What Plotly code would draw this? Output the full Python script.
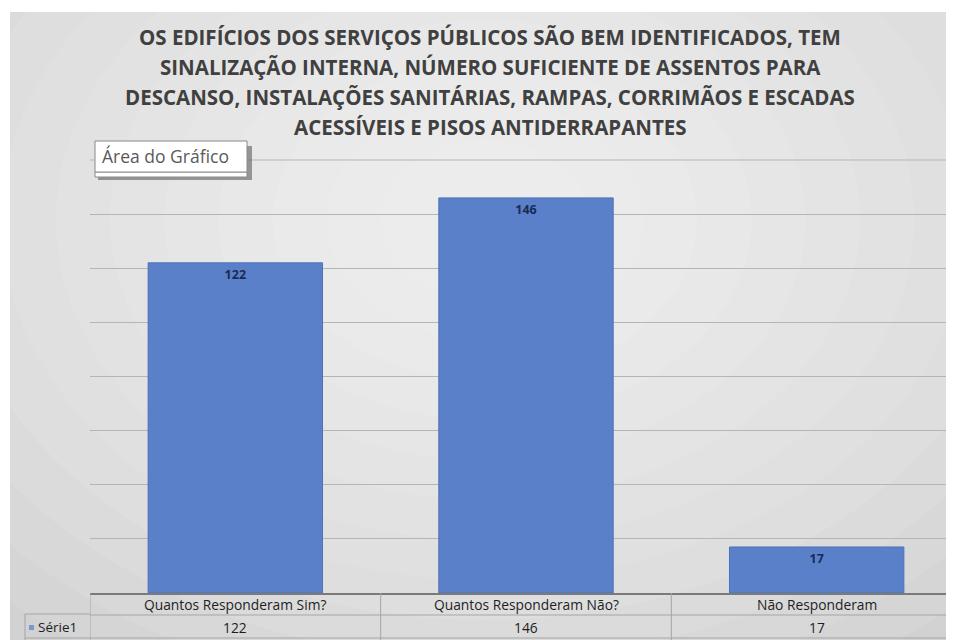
import plotly.graph_objects as go

categories = ["Quantos Responderam Sim?", "Quantos Responderam Não?", "Não Responderam"]
values = [122, 146, 17]
series_name = "Série1"
title_lines = [
    "OS EDIFÍCIOS DOS SERVIÇOS PÚBLICOS SÃO BEM IDENTIFICADOS, TEM",
    "SINALIZAÇÃO INTERNA, NÚMERO SUFICIENTE DE ASSENTOS PARA",
    "DESCANSO, INSTALAÇÕES SANITÁRIAS, RAMPAS, CORRIMÃOS E ESCADAS",
    "ACESSÍVEIS E PISOS ANTIDERRAPANTES",
]
tooltip_text = "Área do Gráfico"
y_max = 160
y_step = 20

# page body adds an 8px margin; figure overflows the right edge like the reference
OFF = 8
W, H = 954, 640 - OFF
L, R, T, B = 90 - OFF, 0, 160 - OFF, 47
PW, PH = W - L - R, H - T - B

def px(x):  # reference-window pixel -> paper x
    return (x - OFF - L) / PW

def py(y):  # reference-window pixel -> paper y
    return (H - B - (y - OFF)) / PH

FONT = "'Open Sans', Lato, sans-serif"
BAR = "#5a80ca"
GRID = "#b5b5b5"

fig = go.Figure()
fig.add_trace(go.Bar(
    x=list(range(len(categories))), y=values,
    width=0.6,
    marker=dict(color=BAR, line=dict(color="#4d72b8", width=1)),
    text=[str(v) for v in values],
    textposition="inside", insidetextanchor="end",
    textfont=dict(family=FONT, size=12.5, color="#1c2b55", weight="bold"),
    textangle=0,
    showlegend=False, hoverinfo="skip",
))

shapes = []
# white border + gray background
shapes.append(dict(type="rect", xref="paper", yref="paper", x0=px(10), x1=px(970), y0=py(12), y1=py(660),
                   fillcolor="#d2d2d2", line=dict(width=0), layer="below"))
# soft radial glow
n = 12
for i in range(n):
    f = 1 - i / n
    cx, cy = 485, 220
    rx, ry = 50 + 650 * f, 40 + 480 * f
    shapes.append(dict(type="circle", xref="paper", yref="paper",
                       x0=px(cx - rx), x1=px(cx + rx), y0=py(cy - ry), y1=py(cy + ry),
                       fillcolor="white", opacity=0.085, line=dict(width=0), layer="below"))
# top gridline along the upper edge of the plot area (axis maximum)
shapes.append(dict(type="line", xref="paper", yref="paper", x0=0, x1=1, y0=1, y1=1,
                   line=dict(color=GRID, width=1), layer="below"))

# table lines
tbl_line = dict(color="#a5a5a5", width=1)
shapes.append(dict(type="line", xref="paper", yref="paper", x0=px(90), x1=px(970), y0=py(615), y1=py(615), line=tbl_line))
shapes.append(dict(type="line", xref="paper", yref="paper", x0=px(25), x1=px(970), y0=py(638), y1=py(638), line=tbl_line))
shapes.append(dict(type="line", xref="paper", yref="paper", x0=px(25), x1=px(90), y0=py(614), y1=py(614), line=tbl_line))
shapes.append(dict(type="line", xref="paper", yref="paper", x0=px(25), x1=px(25), y0=py(614), y1=py(640), line=tbl_line))
for b in [-0.5, 0.5, 1.5]:
    shapes.append(dict(type="line", xref="x", yref="paper", x0=b, x1=b, y0=0, y1=py(640), line=tbl_line))
# legend key
shapes.append(dict(type="rect", xref="paper", yref="paper", x0=px(29), x1=px(34), y0=py(630), y1=py(625),
                   fillcolor="#7f96c8", line=dict(width=0)))
# tooltip box with shadow
shapes.append(dict(type="rect", xref="paper", yref="paper", x0=px(98), x1=px(252), y0=py(146), y1=py(180),
                   fillcolor="#5e5e5e", opacity=0.6, line=dict(width=0)))
shapes.append(dict(type="rect", xref="paper", yref="paper", x0=px(95), x1=px(247), y0=py(172), y1=py(177),
                   fillcolor="white", line=dict(color="#8a8a8a", width=1)))
shapes.append(dict(type="rect", xref="paper", yref="paper", x0=px(95), x1=px(247), y0=py(141), y1=py(172),
                   fillcolor="white", line=dict(color="#8a8a8a", width=1)))

annotations = []
for i, line in enumerate(title_lines):
    annotations.append(dict(text=f"<b>{line}</b>", xref="paper", yref="paper", x=px(490), y=py(37 + 30 * i),
                            xanchor="center", yanchor="middle", showarrow=False,
                            font=dict(family=FONT, size=20.5, color="#404040")))
annotations.append(dict(text=tooltip_text, xref="paper", yref="paper", x=px(100), y=py(156),
                        xanchor="left", yanchor="middle", showarrow=False,
                        font=dict(family=FONT, size=17.5, color="#595959")))
for i, c in enumerate(categories):
    annotations.append(dict(text=c, xref="x", yref="paper", x=i, y=py(604), xanchor="center", yanchor="middle",
                            showarrow=False, font=dict(family=FONT, size=13.8, color="#1e1e1e")))
    annotations.append(dict(text=str(values[i]), xref="x", yref="paper", x=i, y=py(627), xanchor="center",
                            yanchor="middle", showarrow=False, font=dict(family=FONT, size=13.8, color="#1e1e1e")))
annotations.append(dict(text=series_name, xref="paper", yref="paper", x=px(36), y=py(627), xanchor="left",
                        yanchor="middle", showarrow=False, font=dict(family=FONT, size=13.5, color="#1e1e1e")))

fig.update_layout(
    width=W, height=H,
    margin=dict(l=L, r=R, t=T, b=B, pad=0),
    paper_bgcolor="white", plot_bgcolor="rgba(0,0,0,0)",
    xaxis=dict(range=[-0.5, 2.5], showticklabels=False, showgrid=False, zeroline=False,
               showline=True, linecolor="#7a7a7a", linewidth=2, ticks=""),
    yaxis=dict(range=[0, y_max], dtick=y_step, showticklabels=False, showgrid=True, gridcolor=GRID,
               gridwidth=1, zeroline=False, showline=False, ticks=""),
    shapes=shapes, annotations=annotations,
    bargap=0.4, showlegend=False,
)
fig.write_html("out.html")
